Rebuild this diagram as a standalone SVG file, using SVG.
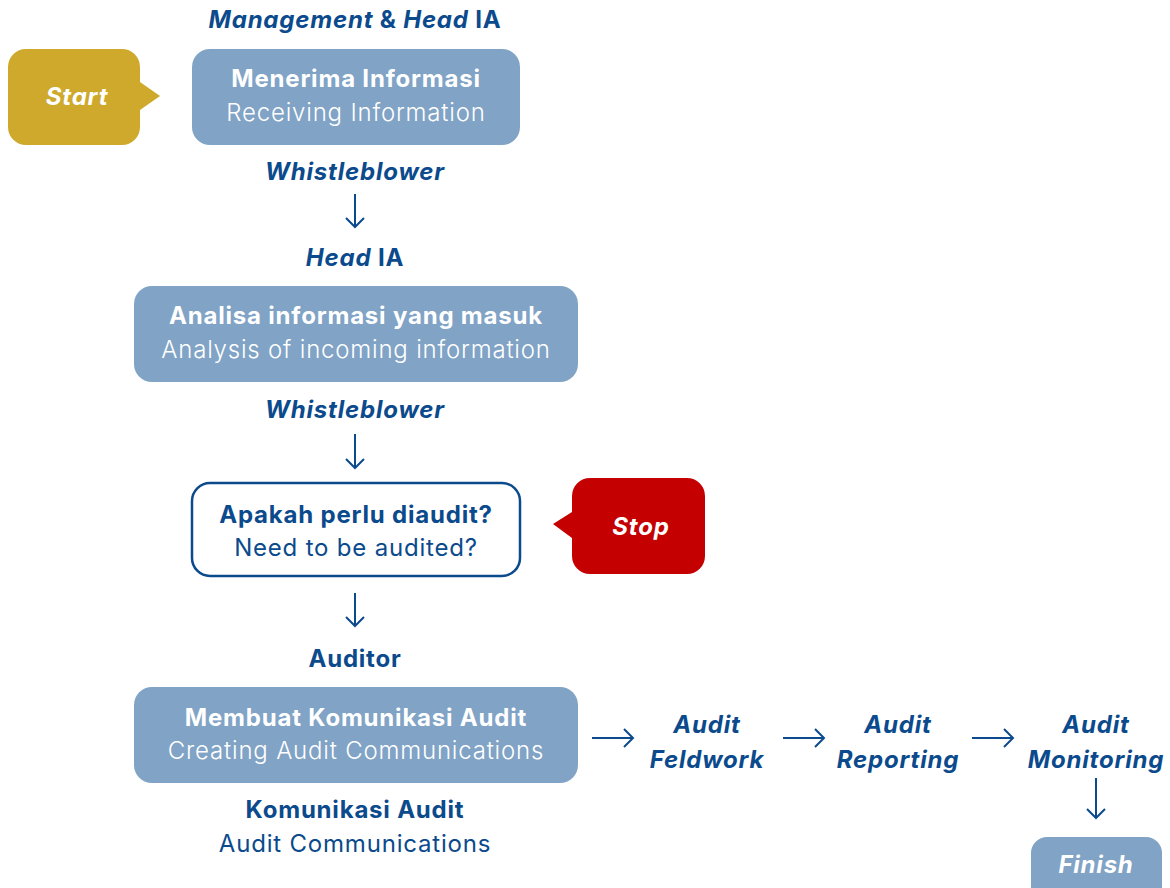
<svg xmlns="http://www.w3.org/2000/svg" width="1170" height="888" viewBox="0 0 1170 888">
<defs>
<style>
.t{font-family:Inter,"Open Sans","Liberation Sans",sans-serif;text-anchor:middle;font-size:24px;letter-spacing:0.8px}
.b{font-weight:700}
.l{font-weight:300}
.r{font-weight:400}
.i{font-style:italic}
.w{fill:#ffffff}
.d{fill:#0B4A8C}
.box{fill:#80A3C6}
.c{fill:none;stroke:#0B4A8C;stroke-width:2}
</style>
<marker id="ah" markerWidth="20" markerHeight="20" viewBox="0 0 20 20" refX="10" refY="10" orient="auto" markerUnits="userSpaceOnUse">
<path d="M1 1 L10 10 L1 19" fill="none" stroke="#0B4A8C" stroke-width="2"/>
</marker>
</defs>
<rect width="1170" height="888" fill="#ffffff"/>

<g id="labels">
<text class="t b d" x="355" y="28"><tspan class="i">Management</tspan> &amp; <tspan class="i">Head</tspan> IA</text>
<text class="t b i d" x="355" y="180">Whistleblower</text>
<text class="t b d" x="355" y="266"><tspan class="i">Head</tspan> IA</text>
<text class="t b i d" x="355" y="418">Whistleblower</text>
<text class="t b d" x="355" y="667">Auditor</text>
<text class="t b d" x="355" y="818">Komunikasi Audit</text>
<text class="t r d" x="355" y="852">Audit Communications</text>
</g>

<g id="start">
<path d="M26 49 H122 A18 18 0 0 1 140 67 V82 L160 96 L140 110 V127 A18 18 0 0 1 122 145 H26 A18 18 0 0 1 8 127 V67 A18 18 0 0 1 26 49 Z" fill="#CEA92C"/>
<text class="t b i w" x="77" y="105">Start</text>
</g>

<g id="receiving">
<rect class="box" x="192" y="49" width="328" height="96" rx="18"/>
<text class="t b w" x="356" y="87">Menerima Informasi</text>
<text class="t l w" x="356" y="121">Receiving Information</text>
</g>

<g id="analysis">
<rect class="box" x="134" y="286" width="444" height="96" rx="18"/>
<text class="t b w" x="356" y="324">Analisa informasi yang masuk</text>
<text class="t l w" x="356" y="358">Analysis of incoming information</text>
</g>

<g id="decision">
<rect x="192" y="483" width="328" height="93" rx="18" fill="#ffffff" stroke="#0B4A8C" stroke-width="2.5"/>
<text class="t b d" x="356" y="523">Apakah perlu diaudit?</text>
<text class="t r d" x="356" y="556">Need to be audited?</text>
</g>

<g id="stop">
<path d="M590 478 H687 A18 18 0 0 1 705 496 V556 A18 18 0 0 1 687 574 H590 A18 18 0 0 1 572 556 V538 L553 524 L572 512 V496 A18 18 0 0 1 590 478 Z" fill="#C40000"/>
<text class="t b i w" x="641" y="535">Stop</text>
</g>

<g id="communication">
<rect class="box" x="134" y="687" width="444" height="96" rx="18"/>
<text class="t b w" x="356" y="726">Membuat Komunikasi Audit</text>
<text class="t l w" x="356" y="759">Creating Audit Communications</text>
</g>

<g id="fieldwork">
<text class="t b i d" x="707" y="733">Audit</text>
<text class="t b i d" x="707" y="768">Feldwork</text>
</g>
<g id="reporting">
<text class="t b i d" x="898" y="733">Audit</text>
<text class="t b i d" x="898" y="768">Reporting</text>
</g>
<g id="monitoring">
<text class="t b i d" x="1096" y="733">Audit</text>
<text class="t b i d" x="1096" y="768">Monitoring</text>
</g>

<g id="finish">
<rect class="box" x="1031" y="837" width="131" height="70" rx="16"/>
<text class="t b i w" x="1096" y="873">Finish</text>
</g>

<g id="connectors">
<path class="c" d="M355 194 V227" marker-end="url(#ah)"/>
<path class="c" d="M355 434 V468" marker-end="url(#ah)"/>
<path class="c" d="M355 593 V626" marker-end="url(#ah)"/>
<path class="c" d="M592 738 H633" marker-end="url(#ah)"/>
<path class="c" d="M783 738 H824" marker-end="url(#ah)"/>
<path class="c" d="M972 738 H1013" marker-end="url(#ah)"/>
<path class="c" d="M1096 778 V818" marker-end="url(#ah)"/>
</g>
</svg>
